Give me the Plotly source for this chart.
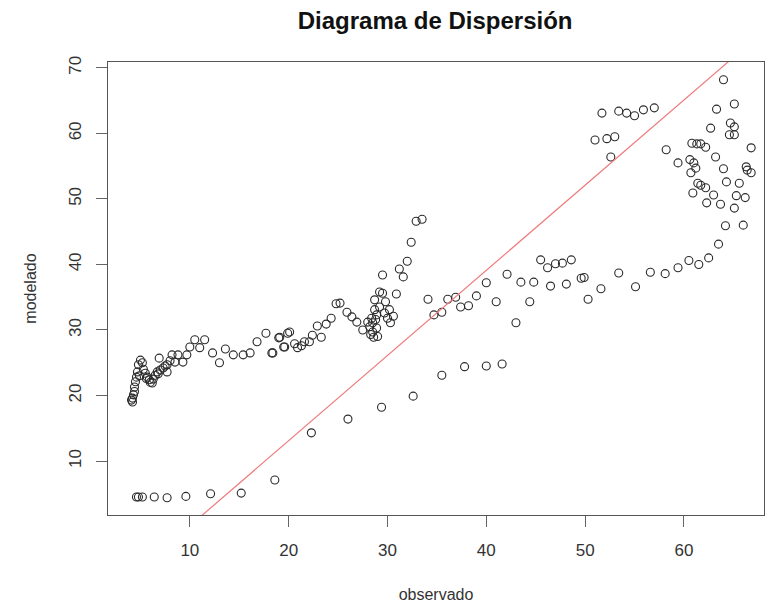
import plotly.graph_objects as go

observado = [
    # low row / lower branch
    4.6, 4.8, 5.2, 6.4, 7.7, 9.6, 12.1, 15.2, 18.6, 22.3, 26.0, 29.4, 32.6, 35.5, 37.8, 40.0, 41.6,
    # left cluster
    4.2, 4.2, 4.3, 4.4, 4.5, 4.6, 4.7, 4.8, 5.0, 5.2, 5.3, 5.5, 5.7, 5.9, 6.2, 6.3, 6.5, 6.7, 7.0, 7.3,
    7.7, 7.7, 6.9, 8.2, 8.5, 8.8, 9.3, 9.7, 10.0, 10.5, 11.0, 11.5, 12.3, 13.0, 13.6, 14.4, 15.4, 16.1,
    16.8, 17.7, 18.3, 19.0, 19.5, 19.9, 4.1, 4.4, 4.9, 5.6, 6.0, 6.8, 7.5, 8.0,
    # middle cluster
    18.4, 19.1, 19.6, 20.1, 20.6, 20.9, 21.3, 21.6, 22.1, 22.4, 23.3, 22.9, 23.8, 24.3, 24.8, 25.2,
    25.9, 26.4, 26.9, 27.5, 28.2, 28.0, 28.5, 28.5, 28.6, 28.9, 28.4, 28.9, 28.7, 29.2, 29.7, 30.2,
    30.6, 30.0, 30.3, 29.8, 28.7, 29.2, 29.5, 30.9, 29.5, 31.6, 31.2, 32.0, 32.4, 32.9, 33.5,
    28.3, 29.0, 28.8,
    # middle-right band
    34.1, 34.7, 35.5, 36.1, 36.9, 37.4, 38.2, 39.0, 40.0, 41.0, 42.1, 43.0, 43.5, 44.4, 44.8, 45.5,
    46.2, 46.5, 47.0, 47.7, 48.1, 48.6, 49.6, 49.9, 50.3, 51.6, 53.4, 55.1, 56.6, 58.1, 59.4, 60.5,
    61.5, 62.5, 63.5,
    # upper right
    51.7, 53.4, 54.2, 55.0, 55.9, 57.0, 51.0, 52.2, 53.0, 52.6, 58.2, 59.4, 64.0, 65.1, 63.3, 62.7,
    64.7, 65.1, 64.6, 65.1, 60.8, 61.3, 61.7, 62.2, 63.2, 60.6, 61.0, 61.2, 60.7, 66.8, 64.0, 66.3,
    66.4, 66.8, 64.3, 65.6, 61.4, 61.7, 62.2, 60.9, 63.0, 65.3, 66.2, 62.3, 63.7, 65.1, 64.2, 66.0,
]
modelado = [
    4.5, 4.5, 4.5, 4.5, 4.4, 4.6, 5.0, 5.1, 7.1, 14.3, 16.4, 18.2, 19.9, 23.1, 24.4, 24.5, 24.8,
    19.0, 19.6, 20.1, 21.3, 22.1, 22.8, 23.6, 24.7, 25.4, 25.0, 24.0, 23.4, 22.8, 22.4, 21.9, 22.5,
    23.1, 23.6, 23.9, 24.2, 23.6, 24.7, 25.7, 26.2, 25.1, 26.2, 25.1, 26.2, 27.4, 28.5, 27.3, 28.5,
    26.5, 25.0, 27.1, 26.2, 26.2, 26.5, 28.2, 29.5, 26.5, 28.8, 27.4, 29.5, 19.3, 20.6, 23.0, 22.6,
    22.0, 23.3, 24.5, 25.3,
    26.5, 28.9, 27.4, 29.7, 27.9, 27.3, 27.6, 28.2, 28.2, 29.2, 28.9, 30.6, 30.9, 31.8, 34.0, 34.1,
    32.7, 32.0, 31.2, 30.0, 30.5, 31.2, 31.1, 29.7, 28.9, 30.3, 31.8, 32.3, 33.1, 33.5, 32.6, 33.1,
    32.1, 31.8, 31.1, 34.3, 34.6, 35.8, 35.6, 35.5, 38.4, 38.1, 39.3, 40.5, 43.4, 46.6, 46.9,
    29.3, 29.0, 31.6,
    34.7, 32.3, 32.7, 34.7, 35.0, 33.5, 33.7, 35.2, 37.2, 34.3, 38.5, 31.1, 37.3, 34.3, 37.3, 40.7,
    39.5, 36.7, 40.1, 40.2, 37.0, 40.7, 37.9, 38.0, 34.7, 36.3, 38.7, 36.6, 38.8, 38.6, 39.5, 40.6,
    40.0, 41.0, 43.1,
    63.1, 63.4, 63.1, 62.7, 63.6, 63.9, 59.0, 59.2, 59.5, 56.4, 57.5, 55.5, 68.2, 64.5, 63.7, 60.8,
    61.6, 61.0, 59.8, 59.8, 58.5, 58.4, 58.4, 57.9, 56.4, 56.0, 55.5, 54.7, 54.0, 57.8, 54.6, 54.9,
    54.4, 54.0, 52.6, 52.4, 52.4, 52.1, 51.7, 50.9, 50.6, 50.5, 50.2, 49.4, 49.2, 48.6, 45.9, 46.0,
]

# fitted line (intercept, slope) as drawn in red
intercepto = -12.9
pendiente = 1.30

x_ticks = [10, 20, 30, 40, 50, 60]
y_ticks = [10, 20, 30, 40, 50, 60, 70]
x_range = [1.72, 68.1]
y_range = [1.76, 70.9]

fig = go.Figure()
fig.add_trace(go.Scatter(
    x=observado, y=modelado, mode="markers",
    marker=dict(symbol="circle-open", size=8, color="#2a2a2a", line=dict(width=1.1)),
    showlegend=False, hoverinfo="x+y",
))
line_x = [x_range[0], x_range[1]]
line_y = [intercepto + pendiente * v for v in line_x]
fig.add_trace(go.Scatter(
    x=line_x, y=line_y, mode="lines",
    line=dict(color="#ee7b7b", width=1.2), showlegend=False, hoverinfo="skip",
))

font_family = "Liberation Sans, Arial, sans-serif"
fig.update_layout(
    width=766, height=607,
    margin=dict(l=108, r=2, t=62, b=92, autoexpand=False),
    paper_bgcolor="white", plot_bgcolor="white",
    font=dict(family=font_family, color="#333333"),
    title=dict(text="<b>Diagrama de Dispersión</b>", x=0.568, xanchor="center",
               y=0.966, yanchor="middle", automargin=False,
               font=dict(size=24, color="#111111")),
    xaxis=dict(range=x_range, tickvals=x_ticks, ticks="outside", ticklen=11, tickwidth=1.3,
               tickcolor="#666666", showgrid=False, zeroline=False, showline=True,
               linecolor="#555555", linewidth=1.3, mirror=True, automargin=False,
               tickfont=dict(size=17, color="#333333"), ticklabelstandoff=8,
               title=dict(text="observado", font=dict(size=16, color="#333333"), standoff=30)),
    yaxis=dict(range=y_range, tickvals=y_ticks, ticks="outside", ticklen=11, tickwidth=1.3,
               tickcolor="#666666", showgrid=False, zeroline=False, showline=True,
               linecolor="#555555", linewidth=1.3, mirror=True, tickangle=-90, automargin=False,
               tickfont=dict(size=17, color="#333333"), ticklabelstandoff=8,
               title=dict(text="modelado", font=dict(size=16, color="#333333"), standoff=25)),
)

fig.write_html(
    "out.html",
    config={"displayModeBar": False},
    post_script="document.body.style.margin='0';document.body.style.overflow='hidden';",
)
